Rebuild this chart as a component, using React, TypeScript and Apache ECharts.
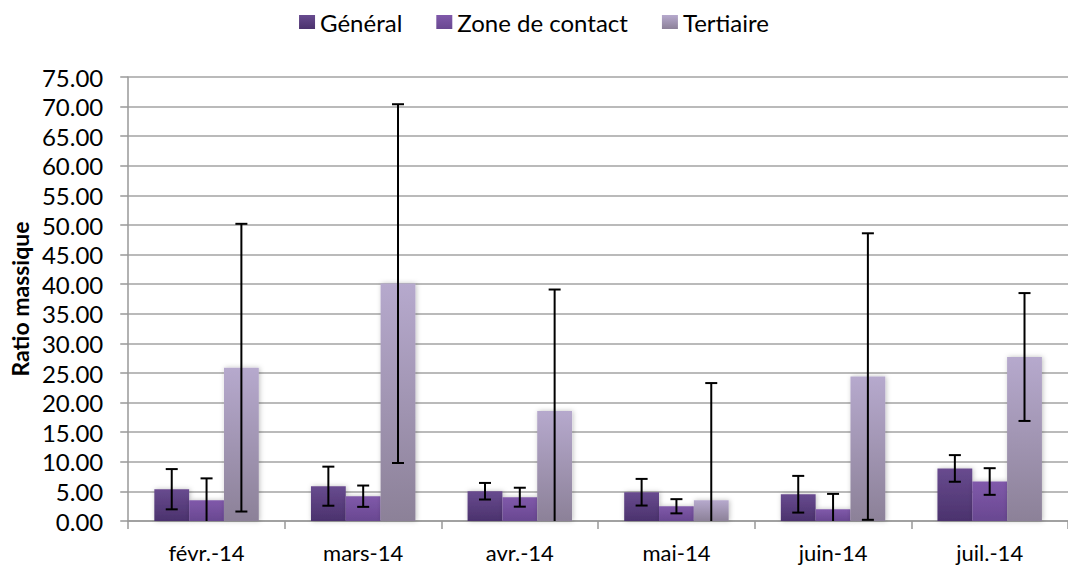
import React, { useEffect, useRef } from "react";
import * as echarts from "echarts";

const categories = ["févr.-14", "mars-14", "avr.-14", "mai-14", "juin-14", "juil.-14"];
const seriesNames = ["Général", "Zone de contact", "Tertiaire"];
const generalValues = [5.37, 5.88, 5.03, 4.86, 4.52, 8.88];
const generalErrors = [3.4, 3.3, 1.4, 2.25, 3.1, 2.25];
const zoneValues = [3.5, 4.19, 4.02, 2.49, 1.98, 6.67];
const zoneErrors = [3.7, 1.8, 1.6, 1.2, 2.6, 2.25];
const tertiaireValues = [25.9, 40.1, 18.6, 3.5, 24.4, 27.7];
const tertiaireErrors = [24.3, 30.3, 20.5, 19.8, 24.2, 10.8];
const yTicks = { min: 0, max: 75, interval: 5 };

const colors = [
  ["#684b8f", "#4b326d"],
  ["#8059aa", "#694891"],
  ["#b6a9cd", "#8c8198"],
];

const FONT = "Lato, 'Open Sans', sans-serif";
const CAT_GAP = 0.333;

export default function App() {
  const ref = useRef<HTMLDivElement>(null);
  useEffect(() => {
    if (!ref.current) return;
    const chart = echarts.init(ref.current, null, { renderer: "svg" });
    const values = [generalValues, zoneValues, tertiaireValues];
    const errors = [generalErrors, zoneErrors, tertiaireErrors];
    const grad = (k: number) =>
      new echarts.graphic.LinearGradient(0, 0, 0, 1, [
        { offset: 0, color: colors[k][0] },
        { offset: 1, color: colors[k][1] },
      ]);
    const barSeries = seriesNames.map((name, k) => ({
      name,
      type: "bar",
      data: values[k],
      barGap: "0%",
      barCategoryGap: "33.3%",
      itemStyle: {
        color: grad(k),
        shadowBlur: 5,
        shadowColor: "rgba(0,0,0,0.25)",
        shadowOffsetX: 1,
        shadowOffsetY: 0,
      },
    }));
    const errData: number[][] = [];
    for (let k = 0; k < 3; k++) {
      for (let i = 0; i < categories.length; i++) {
        errData.push([i, values[k][i], errors[k][i], k]);
      }
    }
    const errSeries = {
      type: "custom",
      name: "err",
      data: errData,
      encode: { x: 0, y: 1 },
      z: 10,
      renderItem: (params: any, api: any) => {
        const ci = api.value(0);
        const v = api.value(1);
        const e = api.value(2);
        const k = api.value(3);
        const center = api.coord([ci, 0]);
        const band = api.size([1, 0])[0];
        const bw = (band * (1 - CAT_GAP)) / 3;
        const x = center[0] + (k - 1) * bw;
        const lowV = Math.max(0, v - e);
        const top = api.coord([ci, v + e])[1];
        const bot = api.coord([ci, lowV])[1];
        const style = { stroke: "#000", lineWidth: 2 };
        const children: any[] = [
          { type: "line", shape: { x1: x, y1: top, x2: x, y2: bot }, style },
          { type: "line", shape: { x1: x - 6, y1: top, x2: x + 6, y2: top }, style },
        ];
        if (v - e > 0) {
          children.push({ type: "line", shape: { x1: x - 6, y1: bot, x2: x + 6, y2: bot }, style });
        }
        return { type: "group", children };
      },
    };
    chart.setOption({
      animation: false,
      backgroundColor: "#ffffff",
      textStyle: { fontFamily: FONT },
      legend: {
        data: seriesNames,
        top: 5,
        left: "center",
        icon: "rect",
        itemWidth: 16,
        itemHeight: 14,
        itemGap: 34,
        textStyle: { fontFamily: FONT, fontSize: 24, color: "#000", padding: [0, 0, 0, 0] },
      },
      grid: { left: 128, right: -5, top: 77, bottom: 47, containLabel: false },
      xAxis: {
        type: "category",
        data: categories,
        axisLine: { show: true, lineStyle: { color: "#999", width: 1.5 } },
        axisTick: { show: true, length: 8, alignWithLabel: false, lineStyle: { color: "#999", width: 1.5 } },
        axisLabel: { fontFamily: FONT, fontSize: 22, lineHeight: 24, color: "#000", margin: 19 },
        splitLine: { show: false },
      },
      yAxis: {
        type: "value",
        min: yTicks.min,
        max: yTicks.max,
        interval: yTicks.interval,
        name: "Ratio massique",
        nameLocation: "middle",
        nameGap: 95,
        nameTextStyle: { fontFamily: FONT, fontSize: 23, fontWeight: "bold", color: "#000" },
        axisLine: { show: true, lineStyle: { color: "#999", width: 1.5 } },
        axisTick: { show: true, length: 8, lineStyle: { color: "#999", width: 1.5 } },
        axisLabel: {
          fontFamily: FONT,
          fontSize: 24,
          color: "#000",
          margin: 25,
          formatter: (v: number) => v.toFixed(2),
        },
        splitLine: { show: true, lineStyle: { color: "#a3a3a3", width: 1.5 } },
      },
      series: [...barSeries, errSeries],
    });
    return () => chart.dispose();
  }, []);
  return (
    <div
      ref={ref}
      style={{ position: "absolute", left: 0, top: 0, width: 1068, height: 568 }}
    />
  );
}
